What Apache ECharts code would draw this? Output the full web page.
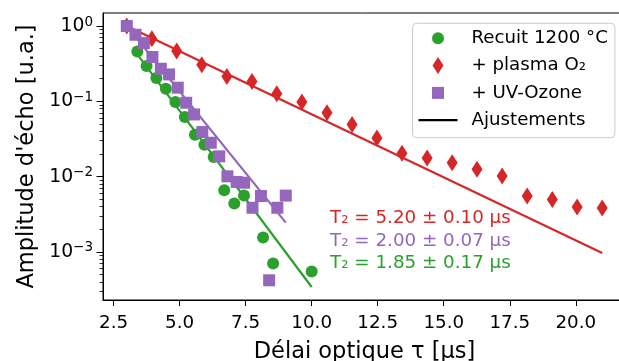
<!DOCTYPE html>
<html>
<head>
<meta charset="utf-8">
<script src="https://cdn.jsdelivr.net/npm/echarts@6/dist/echarts.min.js"></script>
<style>html,body{margin:0;padding:0;background:#fff}#c{width:619px;height:361px}</style>
</head>
<body>
<div id="c"></div>
<script>
// ---- data ----
const recuitX = [3.40, 3.75, 4.12, 4.48, 4.84, 5.20, 5.58, 5.94, 6.29, 6.69, 7.07, 7.44, 8.16, 8.54, 10.0];
const recuitY = [0.46, 0.294, 0.204, 0.147, 0.098, 0.062, 0.036, 0.0265, 0.0182, 0.0066, 0.0044, 0.0056, 0.00155, 0.0007, 0.00055];

const plasmaX = [3.0, 3.95, 4.89, 5.84, 6.79, 7.74, 8.68, 9.63, 10.58, 11.53, 12.47, 13.42, 14.37, 15.32, 16.26, 17.21, 18.16, 19.11, 20.05, 21.0];
const plasmaY = [1.0, 0.678, 0.466, 0.306, 0.214, 0.184, 0.126, 0.098, 0.0706, 0.0494, 0.0326, 0.0204, 0.0177, 0.0153, 0.0125, 0.0102, 0.00552, 0.00498, 0.00395, 0.00383];

const uvX = [3.0, 3.33, 3.65, 3.97, 4.29, 4.60, 4.93, 5.25, 5.55, 5.86, 6.18, 6.50, 6.81, 7.16, 7.44, 7.76, 8.08, 8.39, 8.70, 9.02];
const uvY = [1.0, 0.766, 0.594, 0.388, 0.271, 0.228, 0.152, 0.0958, 0.067, 0.0391, 0.0282, 0.0186, 0.0101, 0.0085, 0.0083, 0.00386, 0.00552, 0.00042, 0.00386, 0.0056];

const fitPlasmaX = [3.0, 21.0];
const fitPlasmaY = [1.0, 0.00097];
const fitUvX = [3.0, 9.02];
const fitUvY = [1.0, 0.00245];
const fitRecuitX = [3.40, 10.0];
const fitRecuitY = [0.42, 0.000342];

const xTicks = [2.5, 5, 7.5, 10, 12.5, 15, 17.5, 20];
const yMajorTicks = [1e-3, 1e-2, 1e-1, 1];
const yExponents = ['−3', '−2', '−1', '0'];
const yMinorTicks = [3e-4,4e-4,5e-4,6e-4,7e-4,8e-4,9e-4,
  2e-3,3e-3,4e-3,5e-3,6e-3,7e-3,8e-3,9e-3,
  2e-2,3e-2,4e-2,5e-2,6e-2,7e-2,8e-2,9e-2,
  2e-1,3e-1,4e-1,5e-1,6e-1,7e-1,8e-1,9e-1];

const annotations = ['T₂ = 5.20 ± 0.10 µs', 'T₂ = 2.00 ± 0.07 µs', 'T₂ = 1.85 ± 0.17 µs'];

const names = ['Recuit 1200 °C', '+ plasma O₂', '+ UV-Ozone', 'Ajustements'];
const RED = '#d62728', GREEN = '#2ca02c', PURPLE = '#9467bd';
const FONT = 'DejaVu Sans';

const zip = (xs, ys) => xs.map((x, i) => [x, ys[i]]);

const circleIcon = 'path://M0,-8.5M0,8.5M-6,0A6,6,0,1,1,6,0A6,6,0,1,1,-6,0Z';
const squareIcon = 'path://M0,-8.5M0,8.5M-6,-6L6,-6L6,6L-6,6Z';
const diamondPath = 'path://M0,-8.5L5.5,0L0,8.5L-5.5,0Z';
const lineIcon = 'path://M0,-8.5M0,8.5M-19.5,-1.1L19.5,-1.1L19.5,1.1L-19.5,1.1Z';

const chart = echarts.init(document.getElementById('c'), null, {renderer: 'canvas'});
const option = {
  animation: false,
  backgroundColor: '#fff',
  textStyle: {fontFamily: FONT},
  grid: {left: 103, top: 13, width: 523, height: 287, containLabel: false, outerBoundsMode: 'none',
    show: true, borderColor: '#000', borderWidth: 1, backgroundColor: 'transparent'},
  xAxis: {
    type: 'value', min: 2.1, max: 21.9,
    splitLine: {show: false},
    axisLine: {show: true, lineStyle: {color: '#000', width: 1}},
    axisTick: {show: true, length: 6, lineStyle: {color: '#000', width: 1}, customValues: xTicks},
    axisLabel: {customValues: xTicks, formatter: v => v.toFixed(1), color: '#000', fontSize: 18.3, fontFamily: FONT, margin: 14},
    name: 'Délai optique τ [µs]', nameLocation: 'middle', nameGap: 41,
    nameTextStyle: {fontSize: 22.5, color: '#000', fontFamily: FONT}
  },
  yAxis: [{
    type: 'log', logBase: 10, min: 2.3e-4, max: 1.49,
    splitLine: {show: false},
    axisLine: {show: true, lineStyle: {color: '#000', width: 1}},
    axisTick: {show: true, length: 6.5, lineStyle: {color: '#000', width: 1}, customValues: yMajorTicks},
    axisLabel: {
      customValues: yMajorTicks,
      margin: 10,
      formatter: v => {
        const i = yMajorTicks.findIndex(t => Math.abs(Math.log10(t) - Math.log10(v)) < 1e-6);
        return '{b|10}{s|' + yExponents[i] + '}';
      },
      rich: {
        b: {fontSize: 18.8, fontFamily: FONT, color: '#000', lineHeight: 22},
        s: {fontSize: 13.5, fontFamily: FONT, color: '#000', lineHeight: 13, verticalAlign: 'top'}
      }
    },
    name: "Amplitude d'écho [u.a.]", nameLocation: 'middle', nameGap: 62,
    nameTextStyle: {fontSize: 22.5, color: '#000', fontFamily: FONT}
  }, {
    type: 'log', logBase: 10, min: 2.3e-4, max: 1.49, position: 'left',
    splitLine: {show: false},
    axisLine: {show: false},
    axisLabel: {show: false},
    axisTick: {show: true, length: 3.5, lineStyle: {color: '#000', width: 0.8}, customValues: yMinorTicks}
  }],
  legend: {
    data: [
      {name: names[0], icon: circleIcon},
      {name: names[1], icon: diamondPath},
      {name: names[2], icon: squareIcon},
      {name: names[3], icon: lineIcon}
    ],
    orient: 'vertical', left: 412.5, top: 23.3,
    itemWidth: 39, itemHeight: 17, itemGap: 7.3,
    padding: [5, 7, 7.5, 6],
    backgroundColor: 'rgba(255,255,255,0.8)',
    borderColor: '#cccccc', borderWidth: 1, borderRadius: 4,
    textStyle: {fontSize: 18.2, color: '#000', fontFamily: FONT, lineHeight: 20, padding: [0, 0, 0, 9]}
  },
  series: [
    {type: 'line', name: 'fitRecuit', data: zip(fitRecuitX, fitRecuitY), yAxisIndex: 0, symbol: 'none', lineStyle: {color: GREEN, width: 2.2}, z: 2, silent: true},
    {type: 'line', name: 'fitPlasma', data: zip(fitPlasmaX, fitPlasmaY), yAxisIndex: 0, symbol: 'none', lineStyle: {color: RED, width: 2.2}, z: 2, silent: true},
    {type: 'line', name: 'fitUv', data: zip(fitUvX, fitUvY), yAxisIndex: 0, symbol: 'none', lineStyle: {color: PURPLE, width: 2.2}, z: 2, silent: true},
    {type: 'scatter', name: names[0], data: zip(recuitX, recuitY), symbol: 'circle', symbolSize: 12, itemStyle: {color: GREEN, opacity: 1}, z: 3},
    {type: 'scatter', name: names[1], data: zip(plasmaX, plasmaY), symbol: diamondPath, symbolSize: [11, 17], itemStyle: {color: RED, opacity: 1}, z: 4},
    {type: 'scatter', name: names[2], data: zip(uvX, uvY), symbol: 'rect', symbolSize: 12, itemStyle: {color: PURPLE, opacity: 1}, z: 5},
    {type: 'line', name: names[3], data: [], symbol: 'none', showSymbol: false, itemStyle: {color: '#000'}, lineStyle: {color: '#000', width: 2}}
  ],
  graphic: [
    {type: 'text', z: 10, style: {x: 330, y: 218.3, text: annotations[0], fill: RED, font: '18.3px "DejaVu Sans"', verticalAlign: 'middle', align: 'left'}},
    {type: 'text', z: 10, style: {x: 330, y: 241, text: annotations[1], fill: PURPLE, font: '18.3px "DejaVu Sans"', verticalAlign: 'middle', align: 'left'}},
    {type: 'text', z: 10, style: {x: 330, y: 263.7, text: annotations[2], fill: GREEN, font: '18.3px "DejaVu Sans"', verticalAlign: 'middle', align: 'left'}}
  ]
};
chart.setOption(option);
</script>
</body>
</html>
